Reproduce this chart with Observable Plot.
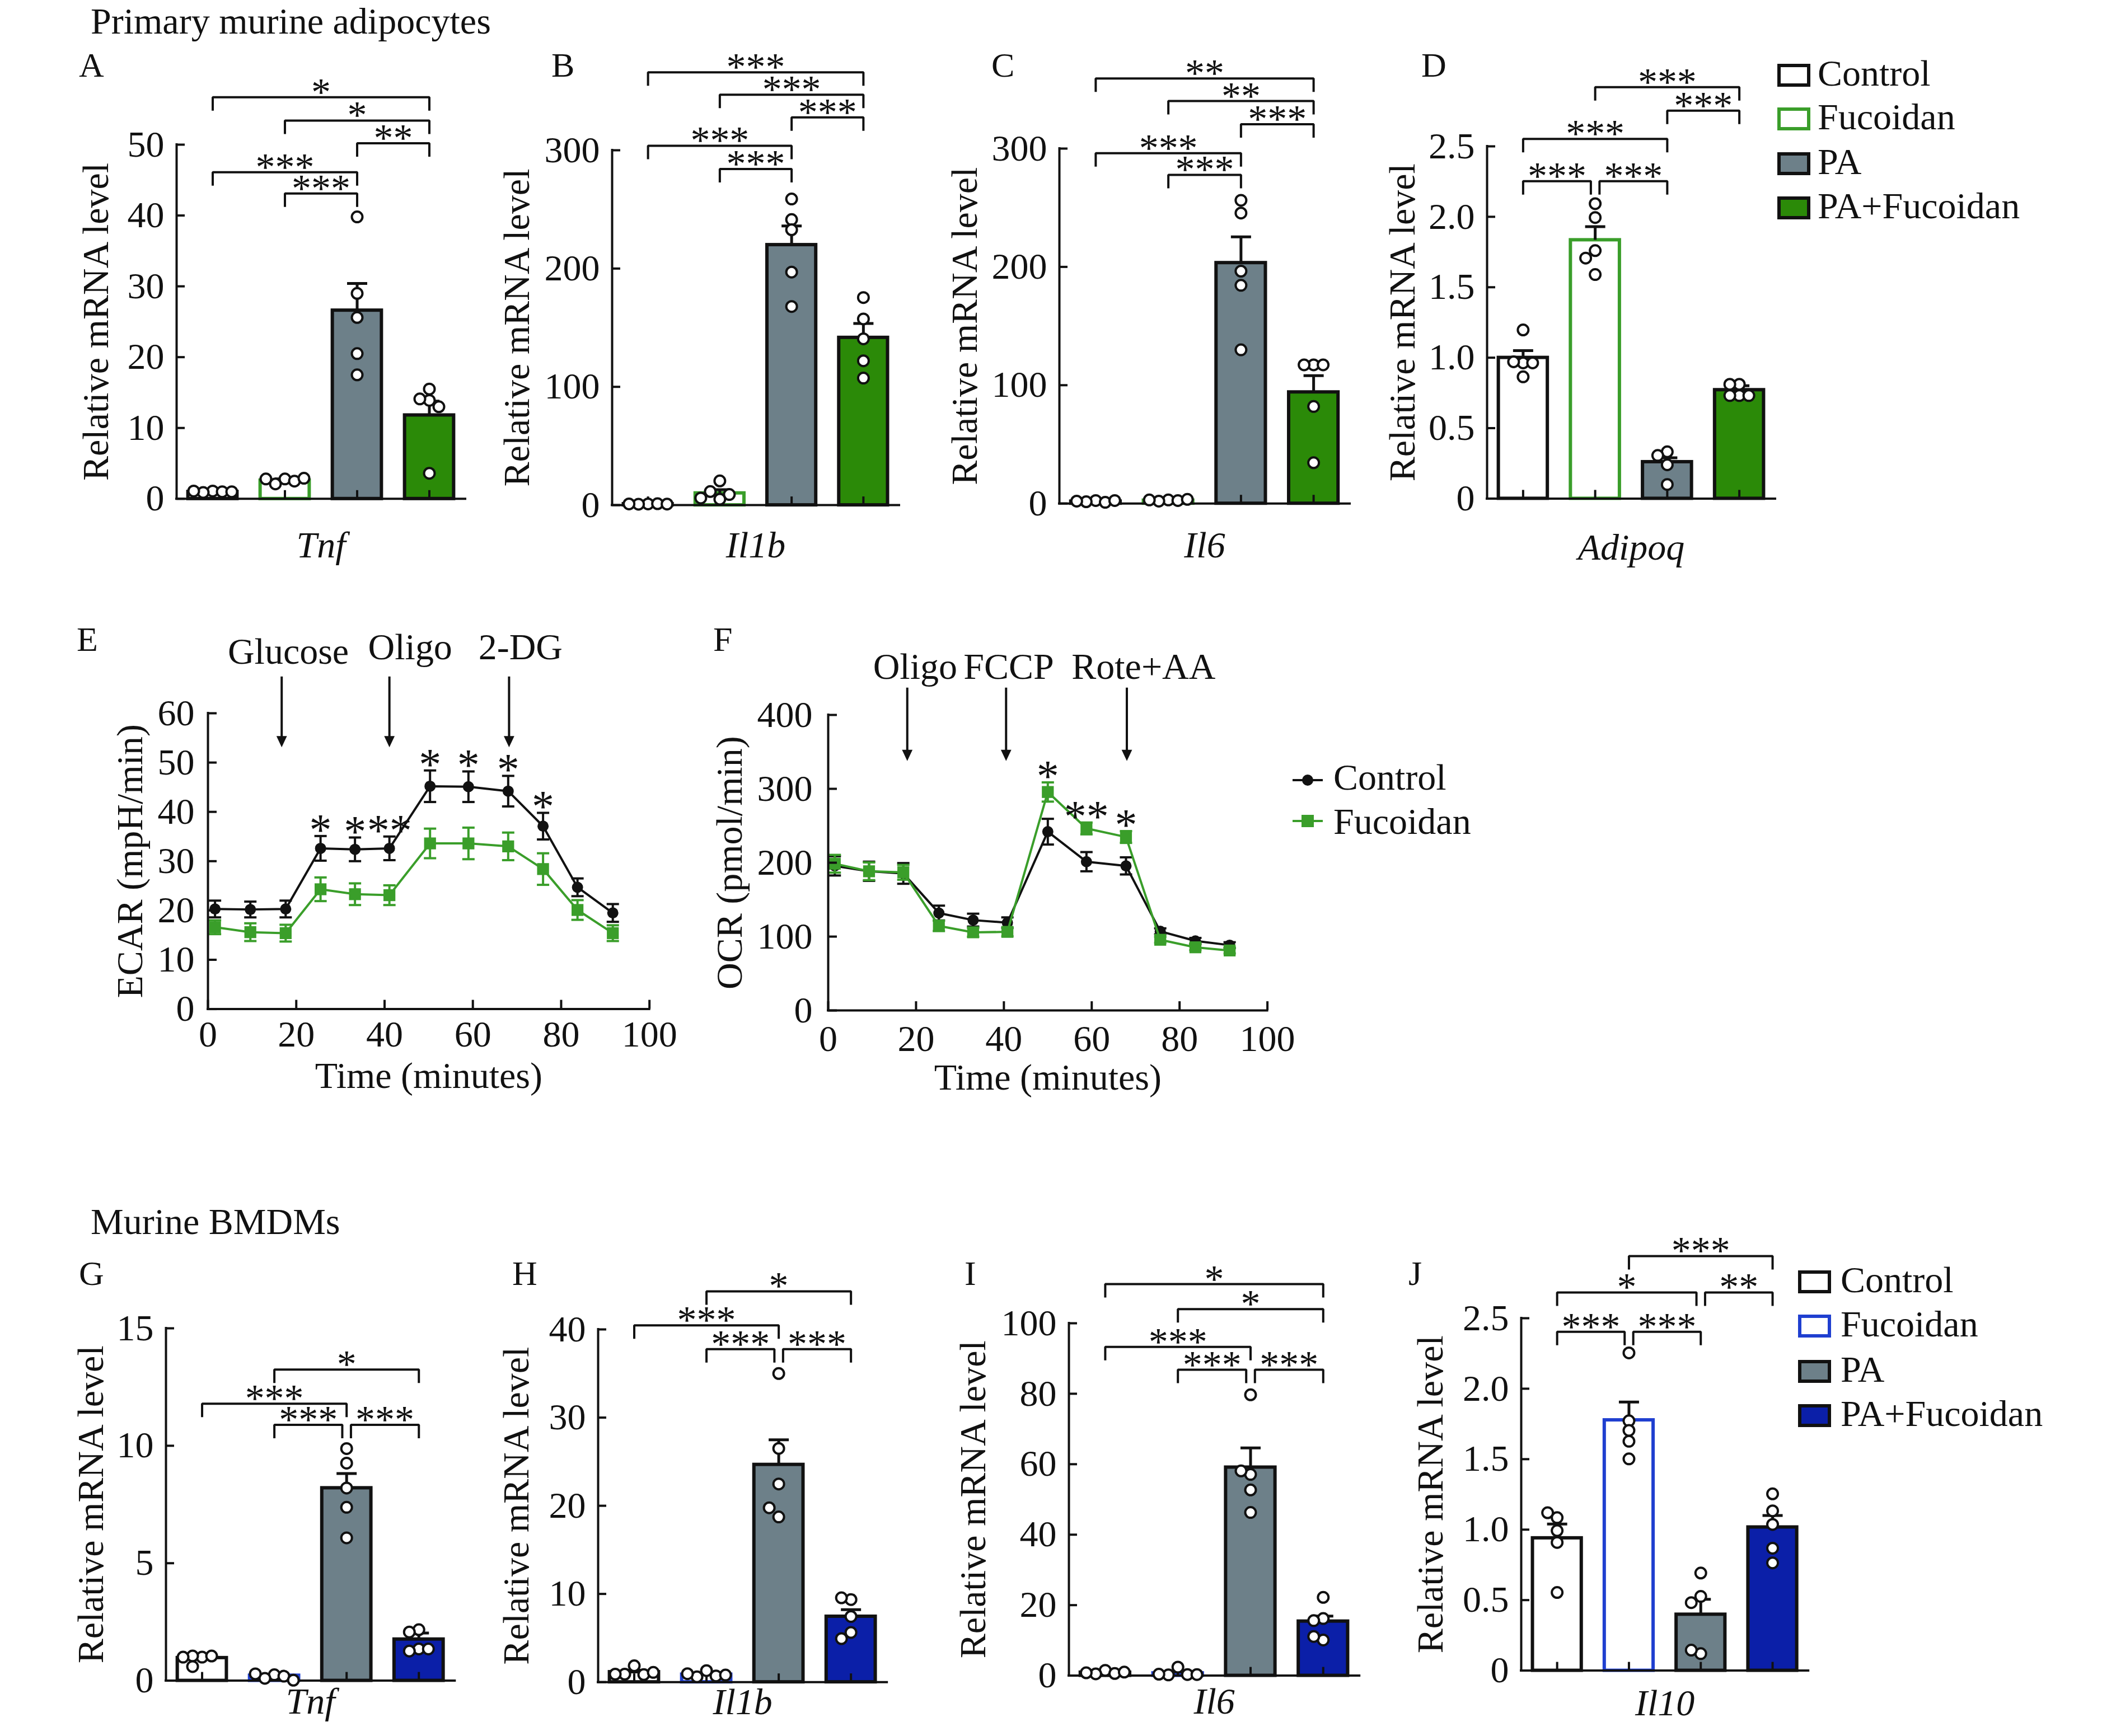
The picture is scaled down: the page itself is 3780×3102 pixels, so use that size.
<!DOCTYPE html>
<html>
<head>
<meta charset="utf-8">
<script src="https://cdn.jsdelivr.net/npm/d3@7"></script>
<script src="https://cdn.jsdelivr.net/npm/@observablehq/plot@0.6"></script>
<style>
html,body{margin:0;padding:0;background:#fff;}
#page{position:relative;width:3780px;height:3102px;overflow:hidden;background:#fff;font-family:"Liberation Serif",serif;}
#page svg{position:absolute;max-width:none;}
</style>
</head>
<body>
<div id="page"></div>
<script>
// ---------------- DATA ----------------
const groups = ["Control", "Fucoidan", "PA", "PA+Fucoidan"];
const yTitle = "Relative mRNA level";

// A — Tnf (primary adipocytes)
const aMean = [1.0, 2.6, 26.6, 11.8];
const aSem = [0.1, 0.2, 3.8, 2.0];
const aPoints = [[1.1, 0.9, 1.0, 1.1, 1.0], [2.8, 2.1, 2.5, 2.8, 2.9], [39.8, 29.0, 25.6, 20.5, 17.5], [15.5, 13.9, 14.1, 13.0, 3.6]];
const aSig = [{from: 0, to: 3, y: 56.7, label: "*"}, {from: 1, to: 3, y: 53.4, label: "*"}, {from: 2, to: 3, y: 50.2, label: "**"}, {from: 0, to: 2, y: 46.1, label: "***"}, {from: 1, to: 2, y: 43.1, label: "***"}];

// B — Il1b
const bMean = [1.0, 10.1, 220.0, 141.6];
const bSem = [0.3, 3.0, 16.0, 12.0];
const bPoints = [[1.0, 0.8, 1.2, 1.0, 0.9], [5, 20.5, 11.5, 9, 6], [258.8, 241.4, 232.8, 197.0, 167.9], [175.5, 157.4, 140.6, 122.0, 107.4]];
const bSig = [{from: 0, to: 3, y: 365.9, label: "***"}, {from: 1, to: 3, y: 346.9, label: "***"}, {from: 2, to: 3, y: 327.8, label: "***"}, {from: 0, to: 2, y: 303.8, label: "***"}, {from: 1, to: 2, y: 284.1, label: "***"}];

// C — Il6
const cMean = [1.8, 2.6, 203.4, 94.1];
const cSem = [0.3, 0.4, 22.0, 14.0];
const cPoints = [[2.5, 1.5, 1.0, 2.0, 2.5], [3.0, 2.0, 2.5, 3.0, 3.5], [245.5, 256.3, 196.4, 184.4, 129.9], [117.2, 117.2, 117.2, 82.0, 34.5]];
const cSig = [{from: 0, to: 3, y: 359.2, label: "**"}, {from: 1, to: 3, y: 340.2, label: "**"}, {from: 2, to: 3, y: 320.6, label: "***"}, {from: 0, to: 2, y: 296.1, label: "***"}, {from: 1, to: 2, y: 277.8, label: "***"}];

// D — Adipoq
const dMean = [1.0, 1.835, 0.26, 0.771];
const dSem = [0.05, 0.095, 0.03, 0.03];
const dPoints = [[1.197, 0.963, 0.971, 0.963, 0.864], [2.093, 1.995, 1.76, 1.707, 1.59], [0.332, 0.306, 0.24, 0.10], [0.811, 0.811, 0.731, 0.731, 0.731]];
const dSig = [{from: 1, to: 3, y: 2.92, label: "***"}, {from: 2, to: 3, y: 2.753, label: "***"}, {from: 0, to: 2, y: 2.553, label: "***"}, {from: 0, to: 1, y: 2.253, label: "***"}, {from: 1, to: 2, y: 2.253, label: "***"}];

// E — ECAR
const eTime = [1.6, 9.6, 17.6, 25.5, 33.3, 41.1, 50.3, 59.0, 68.0, 75.9, 83.7, 91.7];
const eCtrl = [20.3, 20.2, 20.3, 32.6, 32.4, 32.6, 45.2, 45.1, 44.2, 37.1, 24.7, 19.5];
const eCtrlErr = [1.7, 1.6, 1.7, 2.5, 2.4, 2.4, 3.2, 3.1, 3.1, 2.7, 1.8, 1.8];
const eFuc = [16.6, 15.6, 15.4, 24.3, 23.3, 23.1, 33.6, 33.6, 33.0, 28.4, 20.1, 15.4];
const eFucErr = [1.4, 1.8, 1.7, 2.4, 2.2, 2.0, 3.0, 3.2, 2.8, 3.2, 2.0, 1.6];
const eStars = [{i: 3, label: "*"}, {i: 4, label: "*"}, {i: 5, label: "**"}, {i: 6, label: "*"}, {i: 7, label: "*"}, {i: 8, label: "*"}, {i: 9, label: "*"}];
const eArrowX = [16.7, 41.1, 68.2];
const eArrowLabels = [{text: "Glucose", t: 18.2, y: 70.1}, {text: "Oligo", t: 45.8, y: 70.9}, {text: "2-DG", t: 70.8, y: 70.9}];

// F — OCR
const fTime = [1.5, 9.3, 17.1, 25.2, 33.0, 40.8, 50.0, 58.8, 67.8, 75.6, 83.6, 91.4];
const fCtrl = [195.7, 188.4, 185.5, 131.9, 122.3, 118.8, 242.0, 201.4, 195.7, 107.2, 94.2, 88.4];
const fCtrlErr = [13, 13, 14, 10, 8.7, 7.2, 17.4, 13, 11.6, 4, 4, 4];
const fFuc = [198.6, 188.4, 187.0, 114.5, 105.8, 106.4, 295.7, 246.4, 234.8, 95.7, 85.5, 81.2];
const fFucErr = [12, 12, 10, 7, 6, 6, 13, 8, 8, 4, 4, 4];
const fStars = [{i: 6, label: "*"}, {i: 7, label: "**"}, {i: 8, label: "*"}];
const fArrowX = [18.0, 40.5, 68.0];
const fArrowLabels = [{text: "Oligo", t: 19.8, y: 449}, {text: "FCCP", t: 41.1, y: 449}, {text: "Rote+AA", t: 71.8, y: 449}];

// G — Tnf (BMDMs)
const gMean = [0.97, 0.22, 8.2, 1.76];
const gSem = [0.05, 0.05, 0.62, 0.27];
const gPoints = [[1.0, 1.05, 0.6, 1.05, 1.0], [0.25, 0.1, 0.19, 0.29, 0.02], [9.88, 9.26, 8.2, 7.38, 6.08], [2.17, 2.07, 1.35, 1.26, 1.35]];
const gSig = [{from: 1, to: 3, y: 13.24, label: "*"}, {from: 0, to: 2, y: 11.79, label: "***"}, {from: 1, to: 2, y: 10.89, label: "***"}, {from: 2, to: 3, y: 10.89, label: "***"}];

// H — Il1b
const hMean = [1.15, 0.87, 24.66, 7.44];
const hSem = [0.2, 0.15, 2.82, 0.77];
const hPoints = [[1.85, 0.9, 0.85, 0.9, 1.1], [1.3, 0.6, 0.7, 0.95, 0.8], [35.0, 26.5, 22.47, 18.73, 19.77], [9.36, 9.56, 7.44, 5.63, 4.93]];
const hSig = [{from: 1, to: 3, y: 44.32, label: "*"}, {from: 0, to: 2, y: 40.46, label: "***"}, {from: 1, to: 2, y: 37.77, label: "***"}, {from: 2, to: 3, y: 37.77, label: "***"}];

// I — Il6
const iMean = [0.9, 0.7, 59.1, 15.4];
const iSem = [0.2, 0.4, 5.5, 1.5];
const iPoints = [[1.5, 0.5, 0.6, 0.8, 1.0], [2.4, 0.2, 0.3, 0.4, 0.3], [79.7, 57.1, 58.1, 52.7, 46.3], [22.2, 16.2, 15.6, 10.1, 11.1]];
const iSig = [{from: 0, to: 3, y: 111.1, label: "*"}, {from: 1, to: 3, y: 104.0, label: "*"}, {from: 0, to: 2, y: 93.3, label: "***"}, {from: 1, to: 2, y: 86.8, label: "***"}, {from: 2, to: 3, y: 86.8, label: "***"}];

// J — Il10
const jMean = [0.94, 1.777, 0.398, 1.017];
const jSem = [0.1, 0.128, 0.108, 0.083];
const jPoints = [[1.085, 1.12, 0.993, 0.909, 0.554], [2.254, 1.772, 1.704, 1.627, 1.502], [0.692, 0.526, 0.482, 0.12, 0.145], [1.254, 1.133, 1.037, 0.868, 0.764]];
const jSig = [{from: 1, to: 3, y: 2.941, label: "***"}, {from: 0, to: 2, y: 2.683, label: "*"}, {from: 2, to: 3, y: 2.683, label: "**"}, {from: 0, to: 1, y: 2.404, label: "***"}, {from: 1, to: 2, y: 2.404, label: "***"}];

// ---------------- STYLE ----------------
const FONT = "Liberation Serif";
const GREEN_LINE = "#3a9e2a", GREEN_FILL = "#2b8a08";
const BLUE_LINE = "#1f3fd0", BLUE_FILL = "#0b1fa8";
const GRAY = "#6d8089";
const palGreen = {fill: ["#ffffff", "#ffffff", GRAY, GREEN_FILL], stroke: ["#111", GREEN_LINE, "#111", "#111"]};
const palBlue = {fill: ["#ffffff", "#ffffff", GRAY, BLUE_FILL], stroke: ["#111", BLUE_LINE, "#111", "#111"]};

const hline = {draw(ctx, size) { const r = Math.sqrt(size / Math.PI); ctx.moveTo(-r, 0); ctx.lineTo(r, 0); }};
const triDown = {draw(ctx, size) { const r = Math.sqrt(size / Math.PI); ctx.moveTo(0, 0); ctx.lineTo(-0.47 * r, -r); ctx.lineTo(0.47 * r, -r); ctx.closePath(); }};

const page = document.getElementById("page");
function place(svg, left, top) {
  svg.style.position = "absolute";
  svg.style.left = left + "px";
  svg.style.top = top + "px";
  svg.style.maxWidth = "none";
  page.appendChild(svg);
}

function swarm(vals, pxY, pxX, d) {
  const placed = [], offs = [];
  for (const v of vals) {
    const py = v * pxY;
    let chosen = 0;
    for (let k = 0; k < 14; k++) {
      const o = k === 0 ? 0 : (k % 2 ? -Math.ceil(k / 2) : Math.ceil(k / 2)) * d;
      if (placed.every(p => Math.hypot(p.x - o, p.y - py) >= d)) { chosen = o; break; }
    }
    placed.push({x: chosen, y: py});
    offs.push(chosen / pxX);
  }
  return offs;
}

function barPanel(L, mean, sem, points, sig, yMax, yStep, fmt, pal, gene) {
  const mL = 240, mR = 30, mT = 240, mB = 150;
  const w = L.right - L.left, h = L.bottom - L.top;
  const pxX = w / 4, pxY = h / yMax;
  const rows = groups.map((g, i) => ({g, i, c: i + 0.5, mean: mean[i], top: mean[i] + sem[i]}));
  const pts = [];
  points.forEach((vals, i) => {
    const o = swarm(vals, pxY, pxX, 17);
    vals.forEach((v, j) => pts.push({x: i + 0.5 + o[j], y: v}));
  });
  const leg = 24 / pxY;
  const gap = 0.06;
  const br = [], brText = [];
  sig.forEach((s, k) => {
    let x1 = s.from + 0.5, x2 = s.to + 0.5;
    if (sig.some((o, j) => j !== k && o.y === s.y && o.to === s.from)) x1 += gap;
    if (sig.some((o, j) => j !== k && o.y === s.y && o.from === s.to)) x2 -= gap;
    br.push({k, x: x1, y: s.y - leg}, {k, x: x1, y: s.y}, {k, x: x2, y: s.y}, {k, x: x2, y: s.y - leg});
    brText.push({x: (x1 + x2) / 2, y: s.y, label: s.label});
  });
  const ticks = d3.range(0, yMax + yStep / 2, yStep);
  const svg = Plot.plot({
    width: w + mL + mR, height: h + mT + mB,
    marginLeft: mL, marginRight: mR, marginTop: mT, marginBottom: mB,
    x: {domain: [0, 4], axis: null},
    y: {domain: [0, yMax], axis: null},
    color: {type: "identity"},
    style: {fontFamily: FONT, fontSize: "66px", background: "transparent", overflow: "visible", color: "#111"},
    marks: [
      Plot.rect(rows, {x1: d => d.i + 0.16, x2: d => d.i + 0.84, y1: 0, y2: "mean", fill: d => pal.fill[d.i], stroke: d => pal.stroke[d.i], strokeWidth: 6}),
      Plot.ruleX(rows, {x: "c", y1: "mean", y2: "top", stroke: "#111", strokeWidth: 5}),
      Plot.dot(rows, {x: "c", y: "top", symbol: hline, r: 18, stroke: "#111", strokeWidth: 5, fill: "none"}),
      Plot.ruleX([0.5, 1.5, 2.5, 3.5], {y1: 0, y2: 15 / pxY, stroke: "#111", strokeWidth: 4}),
      Plot.ruleY(ticks, {x1: 0, x2: 15 / pxX, stroke: "#111", strokeWidth: 4}),
      Plot.ruleX([0], {stroke: "#111", strokeWidth: 4, strokeLinecap: "square"}),
      Plot.ruleY([0], {stroke: "#111", strokeWidth: 4, strokeLinecap: "square"}),
      Plot.dot(pts, {x: "x", y: "y", r: 9.5, fill: "white", stroke: "#111", strokeWidth: 4}),
      Plot.line(br, {x: "x", y: "y", z: "k", stroke: "#111", strokeWidth: 4, strokeLinejoin: "miter", strokeLinecap: "butt"}),
      Plot.text(brText, {x: "x", y: "y", text: "label", lineAnchor: "bottom", dy: 14, fontSize: 70, fill: "#111"}),
      Plot.axisY({ticks, tickSize: 0, tickPadding: 22, tickFormat: fmt, fontSize: 66, label: null}),
      Plot.text([yTitle], {text: d => d, frameAnchor: "left", rotate: -90, textAnchor: "middle", dx: L.labelX - L.left, fontSize: 66}),
      Plot.text([gene], {text: d => d, frameAnchor: "bottom", lineAnchor: "bottom", dy: L.geneBase - L.bottom, fontStyle: "italic", fontSize: 66})
    ]
  });
  place(svg, L.left - mL, L.top - mT);
}

function linePanel(L, cfg) {
  const mL = 260, mR = 60, mT = 200, mB = 180;
  const w = L.right - L.left, h = L.bottom - L.top;
  const pxX = w / 100, pxY = h / cfg.yMax;
  const ctrl = cfg.time.map((t, i) => ({t, v: cfg.ctrl[i], e: cfg.ctrlErr[i]}));
  const fuc = cfg.time.map((t, i) => ({t, v: cfg.fuc[i], e: cfg.fucErr[i]}));
  const yt = d3.range(0, cfg.yMax + cfg.yStep / 2, cfg.yStep);
  const xt = [0, 20, 40, 60, 80, 100];
  const src = cfg.starOn === "ctrl" ? ctrl : fuc;
  const stars = cfg.stars.map(s => ({t: src[s.i].t, y: src[s.i].v + src[s.i].e, label: s.label}));
  const series = (data, color, symbol, r) => [
    Plot.line(data, {x: "t", y: "v", stroke: color, strokeWidth: 4}),
    Plot.ruleX(data, {x: "t", y1: d => d.v - d.e, y2: d => d.v + d.e, stroke: color, strokeWidth: 4}),
    Plot.dot(data, {x: "t", y: d => d.v + d.e, symbol: hline, r: 11, stroke: color, strokeWidth: 4, fill: "none"}),
    Plot.dot(data, {x: "t", y: d => d.v - d.e, symbol: hline, r: 11, stroke: color, strokeWidth: 4, fill: "none"}),
    Plot.dot(data, {x: "t", y: "v", symbol, r, fill: color, stroke: "none"})
  ];
  const svg = Plot.plot({
    width: w + mL + mR, height: h + mT + mB,
    marginLeft: mL, marginRight: mR, marginTop: mT, marginBottom: mB,
    x: {domain: [0, 100], axis: null},
    y: {domain: [0, cfg.yMax], axis: null},
    style: {fontFamily: FONT, fontSize: "66px", background: "transparent", overflow: "visible", color: "#111"},
    marks: [
      Plot.ruleX(cfg.arrowX, {x: d => d, y1: cfg.arrowTop, y2: cfg.arrowTip + 10 / pxY, stroke: "#111", strokeWidth: 4}),
      Plot.dot(cfg.arrowX, {x: d => d, y: cfg.arrowTip, symbol: triDown, r: 20, fill: "#111", stroke: "none"}),
      Plot.text(cfg.arrowLabels, {x: "t", y: "y", text: "text", lineAnchor: "bottom", fontSize: 66}),
      ...series(ctrl, "#111", "circle", 10),
      ...series(fuc, cfg.green, "square", 12),
      Plot.text(stars, {x: "t", y: "y", text: "label", lineAnchor: "bottom", dy: 16, fontSize: 80}),
      Plot.ruleY(yt, {x1: 0, x2: 16 / pxX, stroke: "#111", strokeWidth: 4}),
      Plot.ruleX(xt, {y1: 0, y2: 16 / pxY, stroke: "#111", strokeWidth: 4}),
      Plot.ruleX([0], {stroke: "#111", strokeWidth: 4, strokeLinecap: "square"}),
      Plot.ruleY([0], {stroke: "#111", strokeWidth: 4, strokeLinecap: "square"}),
      Plot.axisY({ticks: yt, tickSize: 0, tickPadding: cfg.yPad, fontSize: 66, label: null}),
      Plot.axisX({ticks: xt, tickSize: 0, tickPadding: cfg.xPad, fontSize: 66, label: null}),
      Plot.text([cfg.yLabel], {text: d => d, frameAnchor: "left", rotate: -90, textAnchor: "middle", dx: L.labelX - L.left, fontSize: 66}),
      Plot.text(["Time (minutes)"], {text: d => d, frameAnchor: "bottom", lineAnchor: "bottom", dy: L.xLabelBase - L.bottom, fontSize: 66})
    ]
  });
  place(svg, L.left - mL, L.top - mT);
}

// ---------------- LAYOUT ----------------
const fmt1 = d => d === 0 ? "0" : d.toFixed(1);
const fmt0 = d => String(d);

barPanel({left: 315, right: 831, top: 257.8, bottom: 890.6, labelX: 171, geneBase: 995}, aMean, aSem, aPoints, aSig, 50, 10, fmt0, palGreen, "Tnf");
barPanel({left: 1093, right: 1606, top: 267.9, bottom: 902, labelX: 923, geneBase: 995}, bMean, bSem, bPoints, bSig, 300, 100, fmt0, palGreen, "Il1b");
barPanel({left: 1892, right: 2411, top: 264.5, bottom: 898.7, labelX: 1723, geneBase: 995}, cMean, cSem, cPoints, cSig, 300, 100, fmt0, palGreen, "Il6");
barPanel({left: 2656, right: 3171, top: 261.2, bottom: 890.6, labelX: 2505, geneBase: 1000}, dMean, dSem, dPoints, dSig, 2.5, 0.5, fmt1, palGreen, "Adipoq");

barPanel({left: 295.7, right: 812, top: 2373.4, bottom: 3003, labelX: 162, geneBase: 3062}, gMean, gSem, gPoints, gSig, 15, 5, fmt0, palBlue, "Tnf");
barPanel({left: 1068.4, right: 1584.6, top: 2374.6, bottom: 3004.8, labelX: 923, geneBase: 3062}, hMean, hSem, hPoints, hSig, 40, 10, fmt0, palBlue, "Il1b");
barPanel({left: 1909.3, right: 2428.5, top: 2364.3, bottom: 2993.9, labelX: 1739, geneBase: 3062}, iMean, iSem, iPoints, iSig, 100, 20, fmt0, palBlue, "Il6");
barPanel({left: 2717.2, right: 3230.4, top: 2355.2, bottom: 2984.8, labelX: 2556, geneBase: 3065}, jMean, jSem, jPoints, jSig, 2.5, 0.5, fmt1, palBlue, "Il10");

linePanel({left: 370.5, right: 1159.2, top: 1274.3, bottom: 1802.9, labelX: 232, xLabelBase: 1944}, {
  time: eTime, ctrl: eCtrl, ctrlErr: eCtrlErr, fuc: eFuc, fucErr: eFucErr, yMax: 60, yStep: 10,
  stars: eStars, starOn: "ctrl", arrowX: eArrowX, arrowTop: 67.4, arrowTip: 53.1, arrowLabels: eArrowLabels,
  yLabel: "ECAR (mpH/min)", green: GREEN_LINE, yPad: 24, xPad: 20
});
linePanel({left: 1479, right: 2263.6, top: 1277.4, bottom: 1805.5, labelX: 1303, xLabelBase: 1947}, {
  time: fTime, ctrl: fCtrl, ctrlErr: fCtrlErr, fuc: fFuc, fucErr: fFucErr, yMax: 400, yStep: 100,
  stars: fStars, starOn: "fuc", arrowX: fArrowX, arrowTop: 436.6, arrowTip: 337.7, arrowLabels: fArrowLabels,
  yLabel: "OCR (pmol/min)", green: GREEN_LINE, yPad: 28, xPad: 26
});

// ---------------- TITLES, PANEL LETTERS, LEGENDS ----------------
const ov = d3.create("svg").attr("width", 3780).attr("height", 3102)
  .style("position", "absolute").style("left", "0px").style("top", "0px")
  .attr("font-family", FONT).attr("fill", "#111");
function txt(x, y, s, size) { ov.append("text").attr("x", x).attr("y", y).attr("font-size", size).text(s); }
txt(162, 60, "Primary murine adipocytes", 66);
txt(162, 2205, "Murine BMDMs", 66);
[["A", 141, 137], ["B", 985, 137], ["C", 1771, 137], ["D", 2539, 137], ["E", 137, 1163], ["F", 1274, 1163],
 ["G", 141, 2296], ["H", 915, 2296], ["I", 1723, 2296], ["J", 2516, 2296]].forEach(([s, x, y]) => txt(x, y, s, 62));

function boxLegend(x, textX, bases, pal) {
  groups.forEach((g, i) => {
    const b = bases[i];
    ov.append("rect").attr("x", x + 3).attr("y", b - 36).attr("width", 53).attr("height", 35)
      .attr("fill", pal.fill[i]).attr("stroke", pal.stroke[i]).attr("stroke-width", 6);
    txt(textX, b, g, 66);
  });
}
boxLegend(3175, 3247, [153, 231, 311, 390], palGreen);
boxLegend(3212, 3288, [2309, 2388, 2469, 2548], palBlue);

// F legend (line + marker)
ov.append("line").attr("x1", 2309).attr("x2", 2363).attr("y1", 1394).attr("y2", 1394).attr("stroke", "#111").attr("stroke-width", 4);
ov.append("circle").attr("cx", 2336).attr("cy", 1394).attr("r", 10).attr("fill", "#111");
ov.append("line").attr("x1", 2309).attr("x2", 2363).attr("y1", 1467).attr("y2", 1467).attr("stroke", GREEN_LINE).attr("stroke-width", 4);
ov.append("rect").attr("x", 2325).attr("y", 1456).attr("width", 22).attr("height", 22).attr("fill", GREEN_LINE);
txt(2382, 1411, "Control", 66);
txt(2382, 1490, "Fucoidan", 66);

page.appendChild(ov.node());
</script>
</body>
</html>
